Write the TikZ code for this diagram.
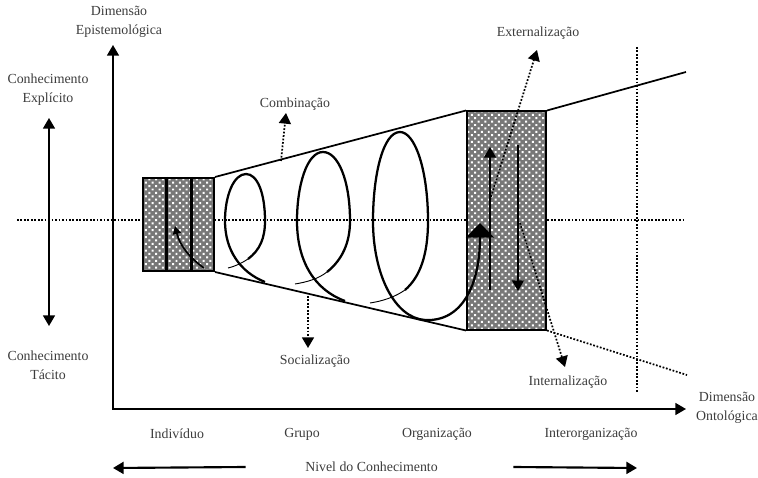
\documentclass[tikz,border=0pt]{standalone}
\usepackage{fontspec}
\setmainfont{Liberation Serif}
\usetikzlibrary{arrows.meta,calc,positioning,patterns.meta}
\definecolor{HatchGray}{RGB}{120,120,120}
\definecolor{LabelGray}{RGB}{60,60,60}

\begin{document}
\begin{tikzpicture}[x=0.75pt,y=-0.75pt,>={Triangle[length=8pt,width=9pt]},font=\fontsize{10.4}{14.2}\selectfont]
\tikzset{lbl/.style={align=center,inner sep=1pt,text=LabelGray},
 hatchbox/.style={draw,line width=1.5pt,preaction={fill=HatchGray},pattern={Dots[distance=3.6pt,radius=1.05pt,angle=45]},pattern color=white},
 dotline/.style={line width=1.3pt,dash pattern=on 1.3pt off 1.3pt},
 spiralline/.style={line width=1.7pt},
 spiraltail/.style={line width=0.7pt}}
\useasboundingbox (0,0) rectangle (758,478);
% eixos
\coordinate (O) at (113,409);\coordinate (ytip) at (113,45);\coordinate (xtip) at (686,409);
\coordinate (exptip) at (49,118);\coordinate (tactip) at (49,326);
\coordinate (hl) at (17,220);\coordinate (hr) at (685,220);\coordinate (vt) at (637,47);\coordinate (vb) at (637,393);
\draw[dotline] (hl) -- (hr);\draw[dotline] (vt) -- (vb);
\draw[<->,line width=1.2pt] (ytip) -- (O) -- (xtip);
\draw[<->,line width=1.2pt] (exptip) -- (tactip);
\node[lbl] (epi) at (119,22) {Dimensão\\Epistemológica};
\node[lbl] (onto) at (727,408) {Dimensão\\Ontológica};
\node[lbl] (exp) at (48,90) {Conhecimento\\Explícito};\node[lbl] (tac) at (48,365) {Conhecimento\\Tácito};
% niveis
\node[lbl] (indiv) at (177,434) {Indivíduo};\node[lbl] (grupo) at (302,434) {Grupo};
\node[lbl] (orgz) at (437,434) {Organização};\node[lbl] (inter) at (591,434) {Interorganização};
\node[lbl] (nivel) at (371.5,467) {Nivel do Conhecimento};
\coordinate (lvlL) at (113,468);\coordinate (lvlR) at (637,468);
\draw[->,line width=1.6pt] (nivel.west) ++(-58,0) coordinate (lvlLs) -- (lvlL);\draw[->,line width=1.6pt] (nivel.east) ++(74,0) coordinate (lvlRs) -- (lvlR);
% caixas
\node[hatchbox,minimum width=53.25pt,minimum height=69.75pt] (ind) at (178.5,224.5) {};
\node[hatchbox,minimum width=59.25pt,minimum height=163.5pt] (org) at (506.5,220.5) {};
\draw[line width=2.2pt] ($(ind.north west)!0.34!(ind.north east)$) -- ($(ind.south west)!0.34!(ind.south east)$);
\draw[line width=2.2pt] ($(ind.north west)!0.68!(ind.north east)$) -- ($(ind.south west)!0.68!(ind.south east)$);
\coordinate (topend) at (686,72);\coordinate (botend) at (687,375);
\draw[line width=1.3pt] (ind.north east) -- (org.north west);\draw[line width=1.3pt] (ind.south east) -- (org.south west);
\draw[line width=1.3pt] (org.north east) -- (topend);\draw[dotline] (org.south east) -- (botend);
% espiral
\draw[->,line width=1.3pt,>={Triangle[length=6pt,width=6pt]}] (204,268) .. controls (190,258) and (180,246) .. (175,226);
\draw[spiraltail] (228,268) .. controls (236,266) and (242,263) .. (248,259);
\draw[spiralline] (248,259) .. controls (260,250) and (265,238) .. (265,221) .. controls (265,192) and (257,174) .. (246,174) .. controls (234,174) and (225,195) .. (225,221) .. controls (225,250) and (240,272) .. (265,282);
\draw[spiraltail] (295,284) .. controls (307,282) and (318,279) .. (327,272);
\draw[spiralline] (327,272) .. controls (342,260) and (350,243) .. (350,221) .. controls (350,180) and (338,152) .. (323,152) .. controls (307,152) and (297,185) .. (297,221) .. controls (297,262) and (315,290) .. (345,301);
\draw[spiraltail] (370,303) .. controls (383,301) and (395,297) .. (405,290);
\draw[spiralline,->,>={Triangle[length=11pt,width=21pt]}] (405,290) .. controls (420,277) and (428,255) .. (428,221) .. controls (428,170) and (415,132) .. (400,132) .. controls (383,132) and (373,175) .. (373,221) .. controls (373,275) and (395,318) .. (425,320) .. controls (462,322) and (480,285) .. (480,223);
% setas internas
\coordinate (upS) at (490,290);\coordinate (upT) at (490,147);\coordinate (dnS) at (518,145);\coordinate (dnT) at (518,291);
\draw[->,line width=1.4pt] (upS) -- (upT);\draw[->,line width=1.4pt] (dnS) -- (dnT);
% modos de conversao
\coordinate (combS) at (281,161);\coordinate (combT) at (286,113);\coordinate (socS) at (308,296);\coordinate (socT) at (308,348);
\coordinate (extS) at (490,200);\coordinate (extT) at (537,50);\coordinate (intS) at (520,223);\coordinate (intT) at (565,367);
\draw[dotline,->] (combS) -- (combT);\draw[dotline,->] (socS) -- (socT);
\draw[dotline,->] (extS) -- (extT);\draw[dotline,->] (intS) -- (intT);
\node[lbl] (comb) at (295,104) {Combinação};\node[lbl] (soc) at (315,361) {Socialização};
\node[lbl] (ext) at (538,33) {Externalização};\node[lbl] (int) at (568,382) {Internalização};
\end{tikzpicture}
\end{document}
